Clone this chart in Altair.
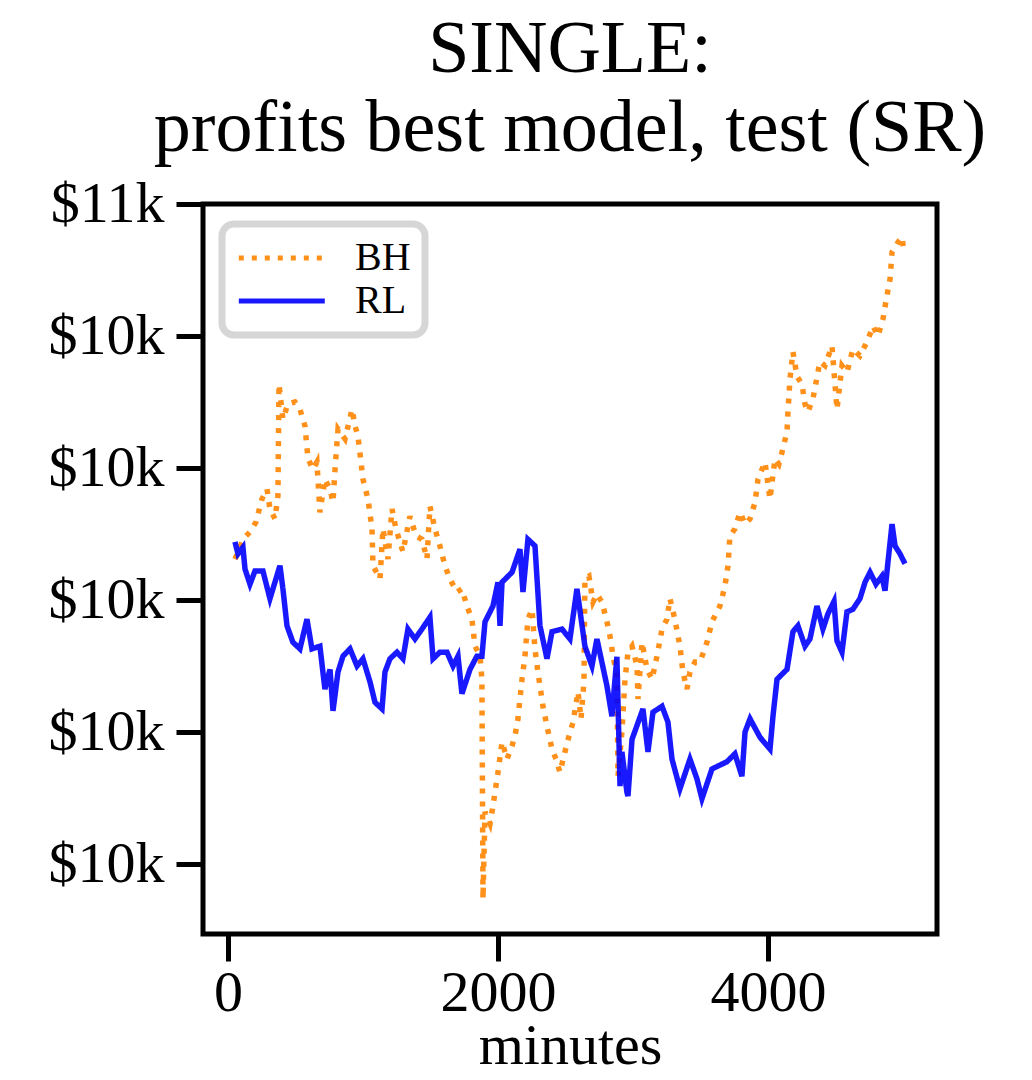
import altair as alt
import pandas as pd

# (minutes, portfolio value in $)
BH = [(52, 10062), (89, 10080), (111, 10092), (163, 10103), (207, 10118), (252, 10153), (289, 10168),
      (311, 10138), (348, 10123), (370, 10158), (378, 10327), (407, 10274), (444, 10297), (496, 10300),
      (533, 10289), (570, 10264), (593, 10214), (630, 10198), (659, 10209), (681, 10133), (718, 10183),
      (756, 10168), (778, 10148), (793, 10198), (815, 10259), (867, 10244), (919, 10289), (941, 10264),
      (963, 10248), (1000, 10183), (1037, 10153), (1067, 10108), (1074, 10052), (1126, 10032), (1148, 10108),
      (1185, 10062), (1215, 10138), (1244, 10108), (1274, 10088), (1296, 10073), (1348, 10127), (1393, 10097),
      (1437, 10092), (1474, 10062), (1496, 10142), (1533, 10108), (1570, 10082), (1607, 10052), (1644, 10032),
      (1696, 10012), (1733, 10017), (1770, 9991), (1807, 9971), (1830, 9930), (1867, 9915), (1881, 9880),
      (1889, 9547), (1904, 9679), (1941, 9661), (1963, 9688), (2000, 9739), (2030, 9785), (2067, 9759),
      (2104, 9779), (2126, 9794), (2148, 9820), (2178, 9880), (2200, 9915), (2222, 9971), (2252, 9986),
      (2274, 9926), (2296, 9891), (2333, 9839), (2363, 9809), (2400, 9774), (2430, 9759), (2459, 9739),
      (2496, 9770), (2526, 9794), (2556, 9815), (2593, 9861), (2615, 9820), (2637, 9876), (2644, 10032),
      (2674, 10036), (2704, 9997), (2733, 10009), (2770, 9997), (2807, 9967), (2830, 9945), (2852, 9915),
      (2881, 9885), (2889, 9733), (2918, 9800), (2941, 9880), (2963, 9921), (2993, 9930), (3030, 9900),
      (3037, 9850), (3067, 9936), (3104, 9895), (3141, 9880), (3178, 9915), (3215, 9956), (3252, 9971),
      (3274, 10002), (3311, 9970), (3348, 9930), (3370, 9891), (3400, 9865), (3422, 9891), (3459, 9906),
      (3496, 9906), (3548, 9936), (3585, 9967), (3615, 9979), (3644, 9991), (3681, 10021), (3704, 10052),
      (3718, 10097), (3755, 10108), (3793, 10133), (3830, 10115), (3867, 10123), (3904, 10148), (3926, 10183),
      (3978, 10209), (4015, 10153), (4052, 10214), (4081, 10206), (4104, 10224), (4141, 10255), (4148, 10285),
      (4163, 10335), (4185, 10376), (4215, 10339), (4252, 10327), (4274, 10297), (4296, 10285), (4333, 10305),
      (4385, 10361), (4422, 10355), (4474, 10385), (4511, 10289), (4548, 10355), (4585, 10345), (4629, 10380),
      (4681, 10370), (4733, 10391), (4778, 10415), (4815, 10400), (4852, 10426), (4881, 10461), (4904, 10486),
      (4919, 10527), (4963, 10542), (4993, 10550), (5007, 10527)]

RL = [(52, 10088), (74, 10070), (111, 10080), (126, 10047), (163, 10024), (200, 10044), (259, 10044),
      (311, 10002), (385, 10052), (407, 10017), (437, 9961), (481, 9936), (533, 9926), (585, 9971),
      (622, 9926), (681, 9930), (718, 9865), (756, 9895), (778, 9832), (815, 9891), (852, 9915),
      (904, 9926), (956, 9900), (1000, 9911), (1052, 9876), (1089, 9845), (1141, 9835), (1163, 9891),
      (1200, 9911), (1252, 9921), (1296, 9911), (1333, 9956), (1385, 9941), (1437, 9956), (1496, 9974),
      (1519, 9911), (1570, 9921), (1622, 9921), (1667, 9900), (1704, 9915), (1733, 9858), (1793, 9895),
      (1844, 9915), (1881, 9915), (1904, 9967), (1963, 9991), (2000, 10027), (2015, 9961), (2030, 10027),
      (2104, 10042), (2163, 10077), (2185, 10012), (2222, 10092), (2274, 10082), (2311, 9961), (2363, 9911),
      (2400, 9952), (2474, 9956), (2533, 9941), (2585, 10017), (2644, 9930), (2696, 9900), (2733, 9941),
      (2807, 9870), (2844, 9824), (2881, 9914), (2904, 9718), (2918, 9770), (2955, 9709), (2963, 9703),
      (2993, 9789), (3074, 9835), (3111, 9770), (3148, 9830), (3215, 9839), (3259, 9815), (3289, 9759),
      (3348, 9714), (3422, 9759), (3474, 9729), (3511, 9699), (3585, 9744), (3696, 9755), (3755, 9767),
      (3807, 9733), (3830, 9800), (3867, 9820), (3941, 9792), (4015, 9774), (4037, 9824), (4067, 9880),
      (4141, 9895), (4185, 9952), (4222, 9961), (4274, 9930), (4311, 9941), (4363, 9991), (4407, 9956),
      (4444, 9979), (4489, 9998), (4511, 9938), (4548, 9921), (4585, 9982), (4629, 9986), (4681, 10002),
      (4719, 10027), (4756, 10042), (4800, 10024), (4844, 10036), (4867, 10014), (4889, 10058), (4919, 10115),
      (4941, 10082), (4978, 10070), (5015, 10055)]

SERIES = ["BH", "RL"]
COLORS = ["#ff8400", "#0000ff"]
DASHES = [[5, 8], [1, 0]]
X_TICKS = [0, 2000, 4000]
Y_TICKS = [9600, 9800, 10000, 10200, 10400, 10600]
TITLE = ["SINGLE:", "profits best model, test (SR)"]
X_TITLE = "minutes"

rows = []
for name, pts in zip(SERIES, [BH, RL]):
    for i, (m, v) in enumerate(pts):
        rows.append({"series": name, "minutes": m, "value": v, "order": i})
df = pd.DataFrame(rows)

FONT = "Liberation Serif"


def build(with_encode, with_cfg):
    lk = dict(
        title=None, orient="none", legendX=19, legendY=20, padding=14,
        strokeColor="#d6d6d6", cornerRadius=12, fillColor="white",
        labelFont=FONT, labelFontSize=40, labelColor="black",
        symbolType="M-1,0H4", symbolSize=1183, symbolStrokeWidth=5,
        labelOffset=79, rowPadding=3,
    )
    if with_encode:
        lk["encode"] = {"legend": {"update": {"strokeWidth": {"value": 7}}}}
    legend = alt.Legend(**lk)
    chart = alt.Chart(df).mark_line(opacity=0.9, strokeWidth=5.5, strokeCap="butt").encode(
        x=alt.X("minutes:Q",
                scale=alt.Scale(domain=[-185, 5252], nice=False, zero=False),
                axis=alt.Axis(values=X_TICKS, title=X_TITLE, format="d", labelBaseline="alphabetic",
                              labelPadding=49, titleY=129, titleBaseline="alphabetic")),
        y=alt.Y("value:Q",
                scale=alt.Scale(domain=[9494, 10600], nice=False, zero=False),
                axis=alt.Axis(values=Y_TICKS, title=None, labelPadding=12,
                              labelExpr="'$' + format(datum.value / 1000, '.0f') + 'k'")),
        color=alt.Color("series:N", scale=alt.Scale(domain=SERIES, range=COLORS), legend=legend),
        strokeDash=alt.StrokeDash("series:N", scale=alt.Scale(domain=SERIES, range=DASHES), legend=legend),
        order="order:Q",
    ).properties(
        width=734, height=730,
        autosize=alt.AutoSizeParams(type="none"),
        padding={"left": 195, "top": 196, "right": 87, "bottom": 144},
        background="white",
        title=alt.TitleParams(TITLE, font=FONT, fontSize=74, fontWeight="normal", lineHeight=79,
                              anchor="middle", frame="group", baseline="alphabetic", offset=22,
                              dy=72, color="black"),
    ).configure_view(
        stroke="black", strokeWidth=5
    ).configure_axis(
        domain=False, grid=False, tickColor="black", tickWidth=5, tickSize=27,
        labelFont=FONT, labelFontSize=58, labelColor="black",
        titleFont=FONT, titleFontSize=58, titleFontWeight="normal", titleColor="black",
    )
    if with_cfg:
        chart = chart.configure_legend(strokeWidth=7)
    return chart


chart = None
for enc, cfg in [(True, True), (False, True), (True, False), (False, False)]:
    try:
        c = build(enc, cfg)
        c.to_dict()
        chart = c
        break
    except Exception:
        continue

chart.save("out.html", embed_options={"renderer": "svg", "actions": False})
